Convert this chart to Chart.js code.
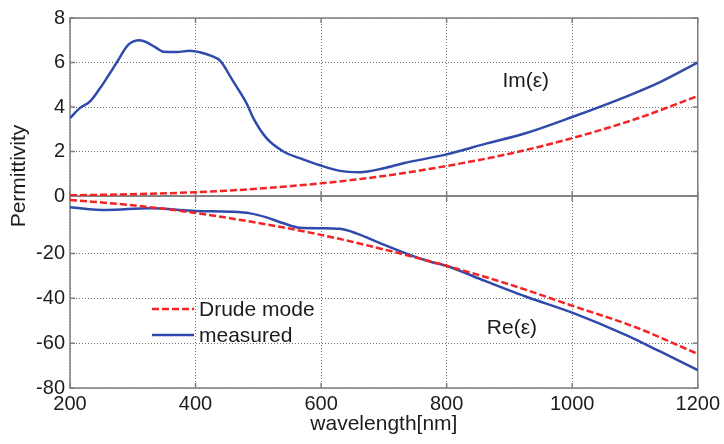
<!DOCTYPE html>
<html>
<head>
<meta charset="utf-8">
<script src="https://cdn.jsdelivr.net/npm/chart.js@4/dist/chart.umd.min.js"></script>
<style>
  body { margin: 0; background: #fff; }
  #wrap { width: 724px; height: 444px; }
</style>
</head>
<body>
<div id="wrap"><canvas id="permChart"></canvas></div>
<script>
// Drude model, sampled every 100 nm
const drudeWavelength = [200, 300, 400, 500, 600, 700, 800, 900, 1000, 1100, 1200];
const drudeIm = [0.03, 0.08, 0.17, 0.33, 0.57, 0.90, 1.35, 1.90, 2.60, 3.45, 4.49];
const drudeRe = [3.9, 1.5, -1.9, -6.4, -11.7, -18.2, -25.5, -33.8, -43.3, -52.8, -64.8];

// measured data
const measImWavelength = [200, 216, 232, 248, 262, 274, 293, 311, 322, 335, 349, 370, 391, 407, 425, 439,
  460, 481, 492, 513, 540, 566, 598, 630, 662, 700, 731, 800, 860, 927, 1000, 1086, 1140, 1200];
const measIm = [3.50, 3.96, 4.25, 4.85, 5.45, 5.98, 6.80, 7.00, 6.91, 6.70, 6.48, 6.47, 6.53, 6.46, 6.30, 6.08,
  5.15, 4.18, 3.50, 2.60, 2.00, 1.70, 1.38, 1.13, 1.07, 1.25, 1.47, 1.87, 2.33, 2.83, 3.55, 4.47, 5.12, 6.00];

const measReWavelength = [200, 258, 327, 400, 455, 487, 513, 540, 566, 600, 630, 656, 694, 741, 773, 800,
  860, 927, 1000, 1086, 1140, 1200];
const measRe = [0.6, -0.6, 0.2, -1.0, -1.35, -2.1, -3.9, -6.5, -8.5, -8.7, -9.0, -11.0, -15.4, -20.6, -23.6, -25.6,
  -32.1, -39.3, -46.4, -56.4, -63.7, -72.0];

const xTicks = [200, 400, 600, 800, 1000, 1200];
const imTicks = [0, 2, 4, 6, 8];
const reTicks = [-80, -60, -40, -20];

const RED = '#f42424';
const BLUE = '#2f4aab';
const FRAME = '#7f7f7f';
const TEXT = '#1c1c1c';
const FONT = "'Liberation Sans', Arial, sans-serif";

const toPoints = (xs, ys) => xs.map((x, i) => ({ x, y: ys[i] }));
const fixTicks = (values) => (scale) => { scale.ticks = values.map((value) => ({ value })); };

const drudeStyle = { borderColor: RED, borderWidth: 2.5, borderDash: [7, 3], pointRadius: 0, fill: false, cubicInterpolationMode: 'monotone' };
const measStyle = { borderColor: BLUE, borderWidth: 2.5, pointRadius: 0, fill: false, cubicInterpolationMode: 'monotone' };

// frame, inward tick marks, text labels and legend
const framePlugin = {
  id: 'framePlugin',
  beforeDatasetsDraw(chart) {
    const { ctx, chartArea: a, scales } = chart;
    ctx.save();
    ctx.strokeStyle = FRAME;
    ctx.lineWidth = 1.5;
    ['yIm', 'yRe'].forEach((id) => {
      const s = scales[id];
      ctx.strokeRect(a.left, s.top, a.right - a.left, s.bottom - s.top);
      // x ticks on top and bottom edge of each panel
      xTicks.forEach((v) => {
        const px = scales.x.getPixelForValue(v);
        ctx.beginPath();
        ctx.moveTo(px, s.top); ctx.lineTo(px, s.top + 5);
        ctx.moveTo(px, s.bottom); ctx.lineTo(px, s.bottom - 5);
        ctx.stroke();
      });
      // y ticks on both sides
      s.ticks.forEach((t) => {
        const py = s.getPixelForValue(t.value);
        ctx.beginPath();
        ctx.moveTo(a.left, py); ctx.lineTo(a.left + 5, py);
        ctx.moveTo(a.right, py); ctx.lineTo(a.right - 5, py);
        ctx.stroke();
      });
    });
    ctx.restore();
  },
  afterDraw(chart) {
    const { ctx, chartArea: a, scales } = chart;
    ctx.save();
    ctx.fillStyle = TEXT;
    ctx.font = `21px ${FONT}`;
    ctx.textAlign = 'center';
    ctx.textBaseline = 'middle';
    ctx.fillText('Im(ε)', scales.x.getPixelForValue(926), scales.yIm.getPixelForValue(5.14));
    ctx.fillText('Re(ε)', scales.x.getPixelForValue(904), scales.yRe.getPixelForValue(-53.2));

    // axis titles
    ctx.textBaseline = 'alphabetic';
    ctx.fillText('wavelength[nm]', (a.left + a.right) / 2, 430);
    ctx.save();
    ctx.translate(25, 176);
    ctx.rotate(-Math.PI / 2);
    ctx.fillText('Permittivity', 0, 0);
    ctx.restore();

    // legend
    const entries = [
      { label: 'Drude mode', style: drudeStyle, y: 309 },
      { label: 'measured', style: measStyle, y: 335 },
    ];
    ctx.textAlign = 'left';
    ctx.textBaseline = 'middle';
    entries.forEach((e) => {
      ctx.save();
      ctx.strokeStyle = e.style.borderColor;
      ctx.lineWidth = e.style.borderWidth;
      ctx.setLineDash(e.style.borderDash || []);
      ctx.beginPath();
      ctx.moveTo(152, e.y);
      ctx.lineTo(194, e.y);
      ctx.stroke();
      ctx.restore();
      ctx.fillText(e.label, 199, e.y + 1);
    });
    ctx.restore();
  },
};

const gridLine = { color: '#6f6f6f', lineWidth: 1, drawTicks: false };
const gridDash = { display: false, dash: [1, 2] };
const tickFont = { family: FONT, size: 20 };
const plainLabel = (value) => String(value);

new Chart('permChart', {
  type: 'line',
  data: {
    datasets: [
      { ...drudeStyle, label: 'Drude mode', yAxisID: 'yIm', data: toPoints(drudeWavelength, drudeIm) },
      { ...drudeStyle, label: 'Drude mode', yAxisID: 'yRe', data: toPoints(drudeWavelength, drudeRe) },
      { ...measStyle, label: 'measured', yAxisID: 'yIm', data: toPoints(measImWavelength, measIm) },
      { ...measStyle, label: 'measured', yAxisID: 'yRe', data: toPoints(measReWavelength, measRe) },
    ],
  },
  options: {
    responsive: true,
    maintainAspectRatio: false,
    animation: false,
    layout: { padding: { top: 18, right: 26, left: 0, bottom: 0 } },
    plugins: { legend: { display: false }, tooltip: { enabled: false } },
    scales: {
      x: {
        type: 'linear',
        min: 200,
        max: 1200,
        afterBuildTicks: fixTicks(xTicks),
        afterFit: (s) => { s.height = 56; },
        grid: gridLine,
        border: gridDash,
        ticks: { font: tickFont, color: TEXT, padding: 4, maxRotation: 0, autoSkip: false, callback: plainLabel },
      },
      yRe: {
        type: 'linear',
        position: 'left',
        stack: 'perm',
        stackWeight: 192,
        min: -80,
        max: 5.65,
        afterBuildTicks: fixTicks(reTicks),
        afterFit: (s) => { s.width = 70; },
        grid: gridLine,
        border: gridDash,
        ticks: { font: tickFont, color: TEXT, padding: 5, autoSkip: false, callback: plainLabel },
      },
      yIm: {
        type: 'linear',
        position: 'left',
        stack: 'perm',
        stackWeight: 178,
        min: 0,
        max: 8,
        afterBuildTicks: fixTicks(imTicks),
        afterFit: (s) => { s.width = 70; },
        grid: gridLine,
        border: gridDash,
        ticks: { font: tickFont, color: TEXT, padding: 5, autoSkip: false, callback: plainLabel },
      },
    },
  },
  plugins: [framePlugin],
});
</script>
</body>
</html>
